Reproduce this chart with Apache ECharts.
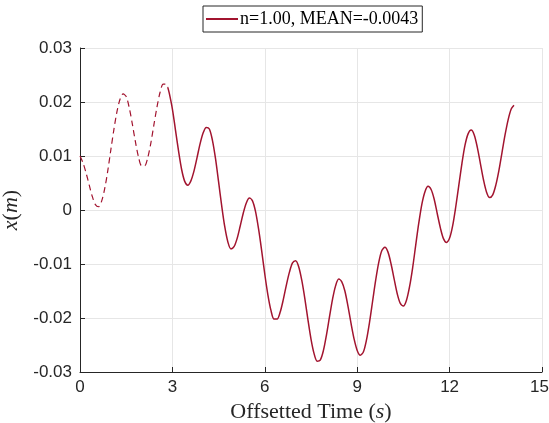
<!DOCTYPE html>
<html>
<head>
<meta charset="utf-8">
<script src="https://cdn.jsdelivr.net/npm/echarts@6/dist/echarts.min.js"></script>
<style>html,body{margin:0;padding:0;background:#fff;}#c{width:549px;height:423px;}</style>
</head>
<body>
<div id="c"></div>
<script>
// Time samples (s) and displacement (m)
const timeDashed = [0, 0.1, 0.2, 0.3, 0.4, 0.5, 0.6, 0.7, 0.8, 0.9, 1.0, 1.1, 1.2, 1.3, 1.4, 1.5, 1.6, 1.7, 1.8, 1.9, 2.0, 2.1, 2.2, 2.3, 2.4, 2.5, 2.6, 2.7, 2.8, 2.85];
const xDashed    = [0.0100, 0.0087, 0.0068, 0.0046, 0.0025, 0.0010, 0.0006, 0.0016, 0.0039, 0.0072, 0.0111, 0.0149, 0.0182, 0.0205, 0.0215, 0.0210, 0.0189, 0.0159, 0.0126, 0.0098, 0.0082, 0.0082, 0.0097, 0.0124, 0.0158, 0.0191, 0.0218, 0.0233, 0.0233, 0.0227];

const timeSolid = [2.85, 2.9, 3.0, 3.1, 3.2, 3.3, 3.4, 3.5, 3.6, 3.7, 3.8, 3.9, 4.0, 4.1, 4.2, 4.3, 4.4, 4.5, 4.6, 4.7, 4.8, 4.9, 5.0, 5.1, 5.2, 5.3, 5.4, 5.5, 5.6, 5.7, 5.8, 5.9, 6.0, 6.1, 6.2, 6.3, 6.4, 6.5, 6.6, 6.7, 6.8, 6.9, 7.0, 7.1, 7.2, 7.3, 7.4, 7.5, 7.6, 7.7, 7.8, 7.9, 8.0, 8.1, 8.2, 8.3, 8.4, 8.5, 8.6, 8.7, 8.8, 8.9, 9.0, 9.1, 9.2, 9.3, 9.4, 9.5, 9.6, 9.7, 9.8, 9.9, 10.0, 10.1, 10.2, 10.3, 10.4, 10.5, 10.6, 10.7, 10.8, 10.9, 11.0, 11.1, 11.2, 11.3, 11.4, 11.5, 11.6, 11.7, 11.8, 11.9, 12.0, 12.1, 12.2, 12.3, 12.4, 12.5, 12.6, 12.7, 12.8, 12.9, 13.0, 13.1, 13.2, 13.3, 13.4, 13.5, 13.6, 13.7, 13.8, 13.9, 14.0, 14.09];
const xSolid    = [0.0227, 0.0216, 0.0187, 0.0148, 0.0109, 0.0075, 0.0053, 0.0046, 0.0054, 0.0072, 0.0097, 0.0123, 0.0143, 0.0153, 0.0150, 0.0129, 0.0095, 0.0052, 0.0008, -0.0031, -0.0059, -0.0072, -0.0068, -0.0053, -0.0030, -0.0006, 0.0013, 0.0022, 0.0017, -0.0003, -0.0036, -0.0076, -0.0119, -0.0157, -0.0186, -0.0202, -0.0202, -0.0189, -0.0166, -0.0139, -0.0115, -0.0098, -0.0094, -0.0105, -0.0130, -0.0164, -0.0203, -0.0239, -0.0266, -0.0280, -0.0278, -0.0261, -0.0232, -0.0198, -0.0165, -0.0140, -0.0128, -0.0133, -0.0150, -0.0178, -0.0210, -0.0239, -0.0260, -0.0269, -0.0263, -0.0241, -0.0208, -0.0169, -0.0130, -0.0097, -0.0075, -0.0069, -0.0078, -0.0100, -0.0128, -0.0155, -0.0173, -0.0178, -0.0167, -0.0142, -0.0107, -0.0065, -0.0024, 0.0011, 0.0034, 0.0044, 0.0038, 0.0020, -0.0007, -0.0033, -0.0053, -0.0060, -0.0052, -0.0029, 0.0006, 0.0046, 0.0086, 0.0120, 0.0141, 0.0148, 0.0139, 0.0116, 0.0086, 0.0056, 0.0033, 0.0023, 0.0028, 0.0046, 0.0073, 0.0106, 0.0139, 0.0167, 0.0187, 0.0194];

const xTicks = [0, 3, 6, 9, 12, 15];
const yTickLabels = ['-0.03', '-0.02', '-0.01', '0', '0.01', '0.02', '0.03'];
const legendLabel = 'n=1.00, MEAN=-0.0043';

const lineColor = '#a2142f';
const axisColor = '#262626';
const gridColor = '#e6e6e6';

const chart = echarts.init(document.getElementById('c'), null, {renderer: 'canvas'});
chart.setOption({
  animation: false,
  backgroundColor: '#ffffff',
  grid: {left: 80, right: 7, top: 48, bottom: 51, containLabel: false, outerBoundsMode: 'none'},
  legend: {
    data: [{name: legendLabel, icon: 'rect'}],
    top: 6, left: 203,
    orient: 'horizontal',
    borderColor: '#262626', borderWidth: 1,
    padding: [4, 4, 4, 3],
    itemWidth: 32, itemHeight: 2, itemGap: 4,
    textStyle: {fontFamily: 'Liberation Serif', fontSize: 18, color: '#000', padding: [0, 0, 0, -3]}
  },
  xAxis: {
    type: 'value', min: xTicks[0], max: xTicks[xTicks.length - 1], interval: 3,
    name: '{n|Offsetted Time (}{i|s}{n|)}',
    nameLocation: 'middle', nameGap: 29,
    nameTextStyle: {rich: {
      n: {fontFamily: 'Liberation Serif', fontSize: 22, color: '#262626'},
      i: {fontFamily: 'Liberation Serif', fontStyle: 'italic', fontSize: 22, color: '#262626'}
    }},
    axisLine: {show: true, onZero: false, lineStyle: {color: axisColor, width: 1}},
    axisTick: {show: true, inside: true, length: 5, lineStyle: {color: axisColor}},
    axisLabel: {color: axisColor, fontFamily: 'Liberation Sans', fontSize: 17, margin: 7,
      formatter: v => v === xTicks[xTicks.length - 1] ? '{r|' + v + '}' : (xTicks.indexOf(v) >= 0 ? String(v) : ''),
      rich: {r: {color: axisColor, fontFamily: 'Liberation Sans', fontSize: 17, padding: [0, 5, 0, 0]}}},
    splitLine: {show: true, lineStyle: {color: gridColor, width: 1}}
  },
  yAxis: {
    type: 'value', min: -0.03, max: 0.03, interval: 0.01,
    name: '{i|x}{n|(}{i|m}{n|)}',
    nameLocation: 'middle', nameGap: 44, nameRotate: 90,
    nameTextStyle: {rich: {
      n: {fontFamily: 'Liberation Serif', fontSize: 22, color: '#262626'},
      i: {fontFamily: 'Liberation Serif', fontStyle: 'italic', fontSize: 22, color: '#262626'}
    }},
    axisLine: {show: true, onZero: false, lineStyle: {color: axisColor, width: 1}},
    axisTick: {show: true, inside: true, length: 5, lineStyle: {color: axisColor}},
    axisLabel: {color: axisColor, fontFamily: 'Liberation Sans', fontSize: 17, margin: 8,
      formatter: v => yTickLabels[Math.round(v * 100) + 3]},
    splitLine: {show: true, lineStyle: {color: gridColor, width: 1}}
  },
  series: [
    {
      name: 'transient', type: 'line', symbol: 'none', smooth: 0.3,
      data: timeDashed.map((t, i) => [t, xDashed[i]]),
      lineStyle: {color: lineColor, width: 1.2, type: [6, 4]},
      itemStyle: {color: lineColor}
    },
    {
      name: legendLabel, type: 'line', symbol: 'none', smooth: 0.3,
      data: timeSolid.map((t, i) => [t, xSolid[i]]),
      lineStyle: {color: lineColor, width: 1.5},
      itemStyle: {color: lineColor}
    }
  ]
});
</script>
</body>
</html>
